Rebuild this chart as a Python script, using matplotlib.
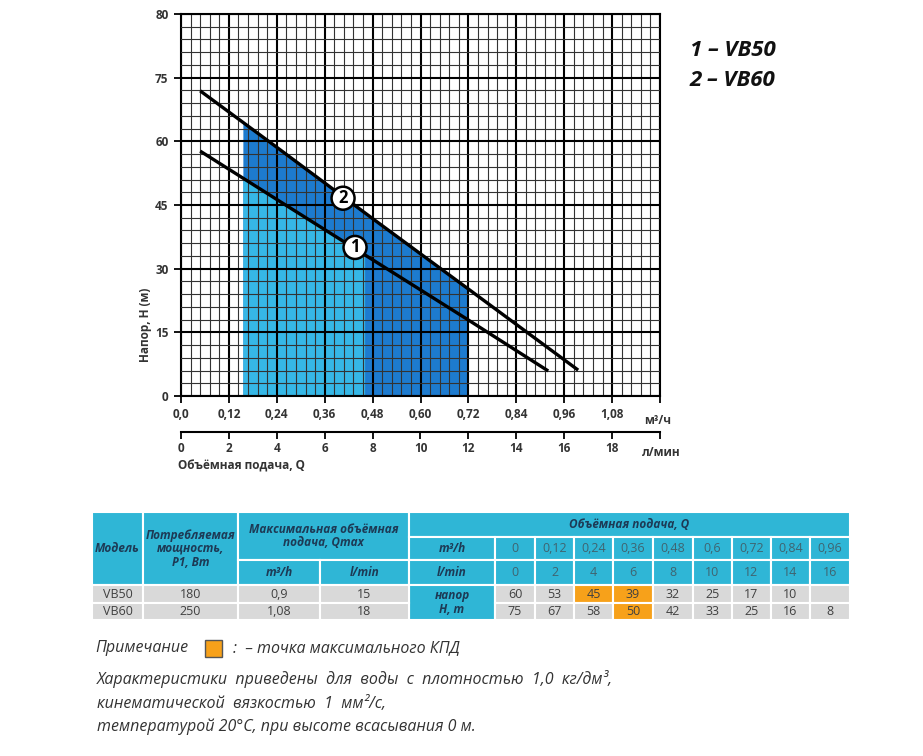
import matplotlib.pyplot as plt
import numpy as np
from matplotlib.patches import Rectangle

plt.rcParams['font.family'] = ['Open Sans', 'DejaVu Sans']

# pump curves: Q (m3/h) -> H (m)
q_vb50 = [0.048, 0.24, 0.48, 0.72, 0.92]
h_vb50 = [57.7, 46.3, 32.1, 17.9, 5.9]
q_vb60 = [0.048, 0.24, 0.48, 0.72, 0.995]
h_vb60 = [71.9, 58.6, 41.8, 25.2, 6.1]

# shaded working zones
zone_vb50_q = [0.155, 0.24, 0.46]
zone_vb50_h = [51.3, 46.3, 33.4]
zone_vb60_q = [0.155, 0.24, 0.48, 0.72]
zone_vb60_h = [64.5, 58.6, 41.8, 25.2]

# curve number badges
badge_q = [0.436, 0.406]
badge_h = [35.0, 46.6]
badge_txt = ['1', '2']

x_ticks = [0, 0.12, 0.24, 0.36, 0.48, 0.60, 0.72, 0.84, 0.96, 1.08, 1.2]
x_labels = ['0,0', '0,12', '0,24', '0,36', '0,48', '0,60', '0,72', '0,84', '0,96', '1,08', '']
y_ticks = [0, 15, 30, 45, 60, 75, 90]
y_labels = ['0', '15', '30', '45', '60', '75', '80']
lmin_ticks = [0, 2, 4, 6, 8, 10, 12, 14, 16, 18, 20]
lmin_labels = ['0', '2', '4', '6', '8', '10', '12', '14', '16', '18', '']

# table data
models = ['VB50', 'VB60']
power = ['180', '250']
qmax_m3h = ['0,9', '1,08']
qmax_lmin = ['15', '18']
q_m3h = ['0', '0,12', '0,24', '0,36', '0,48', '0,6', '0,72', '0,84', '0,96']
q_lmin = ['0', '2', '4', '6', '8', '10', '12', '14', '16']
head_vb50 = ['60', '53', '45', '39', '32', '25', '17', '10', '']
head_vb60 = ['75', '67', '58', '50', '42', '33', '25', '16', '8']
best_vb50 = [2, 3]
best_vb60 = [3]

W, H = 923, 756
fig = plt.figure(figsize=(W / 100, H / 100), dpi=100)

# ---------- chart ----------
ax = fig.add_axes([181 / W, 1 - 396 / H, 479 / W, 382 / H])
ax.set_xlim(0, 1.2)
ax.set_ylim(0, 90)
ax.fill_between(zone_vb60_q, 0, zone_vb60_h, color='#1d7bcf', lw=0, zorder=1)
ax.fill_between(zone_vb50_q, 0, zone_vb50_h, color='#36b7e6', lw=0, zorder=1.1)
ax.plot(q_vb50, h_vb50, color='black', lw=2.4, zorder=3, solid_capstyle='butt')
ax.plot(q_vb60, h_vb60, color='black', lw=2.4, zorder=3, solid_capstyle='butt')
for q, h, t in zip(badge_q, badge_h, badge_txt):
    ax.text(q, h, t, ha='center', va='center', fontsize=12, fontweight='bold', zorder=5,
            bbox=dict(boxstyle='circle,pad=0.15', fc='white', ec='black', lw=1.8))

ax.set_xticks(x_ticks)
ax.set_xticklabels(x_labels)
ax.set_yticks(y_ticks)
ax.set_yticklabels(y_labels)
ax.set_xticks(np.linspace(0, 1.2, 51), minor=True)
ax.set_yticks(np.linspace(0, 90, 31), minor=True)
ax.grid(which='major', color='black', lw=1.5)
ax.grid(which='minor', color='#333333', lw=0.8)
ax.set_axisbelow(False)
ax.tick_params(which='minor', length=0)
ax.tick_params(which='major', length=5, width=1.3, direction='out',
               labelsize=8.5, labelcolor='#333333', pad=4)
for lab in ax.get_xticklabels() + ax.get_yticklabels():
    lab.set_fontweight('bold')
for s in ax.spines.values():
    s.set_linewidth(1.5)

sec = ax.secondary_xaxis(-0.094, functions=(lambda q: q * 1000 / 60, lambda l: l * 60 / 1000))
sec.set_xticks(lmin_ticks)
sec.set_xticklabels(lmin_labels)
sec.tick_params(length=5, width=1.3, labelsize=8.5, labelcolor='#333333', pad=2)
for lab in sec.get_xticklabels():
    lab.set_fontweight('bold')
sec.spines['bottom'].set_linewidth(1.5)

# ---------- overlay in pixel coordinates ----------
ov = fig.add_axes([0, 0, 1, 1], zorder=-1)
ov.set_xlim(0, W)
ov.set_ylim(H, 0)
ov.axis('off')

lab_kw = dict(fontsize=8.5, fontweight='bold', color='#333333')
ov.text(145, 325, 'Напор, H (м)', rotation=90, ha='center', va='center', **lab_kw)
ov.text(178, 466, 'Объёмная подача, Q', ha='left', va='center', **lab_kw)
ov.text(658, 420, 'м³/ч', ha='center', va='center', **lab_kw)
ov.text(661, 452, 'л/мин', ha='center', va='center', **lab_kw)

ov.text(690, 50, '1 – VB50', fontsize=16, fontweight='bold', style='italic', va='center', color='#111111')
ov.text(690, 80, '2 – VB60', fontsize=16, fontweight='bold', style='italic', va='center', color='#111111')

# ---------- table ----------
cyan = '#2fb6d6'
grey = '#d9d9d9'
orange = '#f7a11a'
navy = '#1d3a55'
cols = [92, 143, 238, 320, 409, 495, 535, 574, 613, 653, 693, 732, 771, 810, 850]
rows = [512, 537, 560, 585, 603, 620]


def cell(x0, x1, y0, y1, fc, text='', color='#404040', bold=False, size=9):
    ov.add_patch(Rectangle((x0, y0), x1 - x0, y1 - y0, fc=fc, ec='white', lw=1.5))
    if text:
        ov.text((x0 + x1) / 2, (y0 + y1) / 2, text, ha='center', va='center',
                fontsize=size, color=color, linespacing=1.05,
                fontweight='bold' if bold else 'normal',
                style='italic' if bold else 'normal')


hk = dict(color=navy, bold=True, size=8.5)
cell(cols[0], cols[1], rows[0], rows[3], cyan, 'Модель', **hk)
cell(cols[1], cols[2], rows[0], rows[3], cyan, 'Потребляемая\nмощность,\nP1, Вт', **hk)
cell(cols[2], cols[4], rows[0], rows[2], cyan, 'Максимальная объёмная\nподача, Qmax', **hk)
cell(cols[2], cols[3], rows[2], rows[3], cyan, 'm³/h', **hk)
cell(cols[3], cols[4], rows[2], rows[3], cyan, 'l/min', **hk)
cell(cols[4], cols[-1], rows[0], rows[1], cyan, 'Объёмная подача, Q', **hk)
cell(cols[4], cols[5], rows[1], rows[2], cyan, 'm³/h', **hk)
cell(cols[4], cols[5], rows[2], rows[3], cyan, 'l/min', **hk)
cell(cols[4], cols[5], rows[3], rows[5], cyan, 'напор\nH, m', **hk)
for i in range(9):
    cell(cols[5 + i], cols[6 + i], rows[1], rows[2], cyan, q_m3h[i], color='#3f6470')
    cell(cols[5 + i], cols[6 + i], rows[2], rows[3], cyan, q_lmin[i], color='#3f6470')

data_rows = [(models[0], power[0], qmax_m3h[0], qmax_lmin[0], head_vb50, best_vb50),
             (models[1], power[1], qmax_m3h[1], qmax_lmin[1], head_vb60, best_vb60)]
for r, (m, p, qm, ql, heads, best) in enumerate(data_rows):
    y0, y1 = rows[3 + r], rows[4 + r]
    for c, t in enumerate([m, p, qm, ql]):
        cell(cols[c], cols[c + 1], y0, y1, grey, t)
    for i, t in enumerate(heads):
        cell(cols[5 + i], cols[6 + i], y0, y1, orange if i in best else grey, t)

# ---------- note ----------
nk = dict(fontsize=11.5, style='italic', color='#333333', va='center')
ov.text(95, 648, 'Примечание', **nk)
ov.add_patch(Rectangle((205, 640), 17, 17, fc=orange, ec='#555555', lw=1))
ov.text(233, 648, ':  – точка максимального КПД', **nk)
ov.text(97, 679, 'Характеристики  приведены  для  воды  с  плотностью  1,0  кг/дм³,', **nk)
ov.text(97, 704, 'кинематической  вязкостью  1  мм²/с,', **nk)
ov.text(97, 727, 'температурой 20°С, при высоте всасывания 0 м.', **nk)

fig.savefig('out.png', dpi=100)
